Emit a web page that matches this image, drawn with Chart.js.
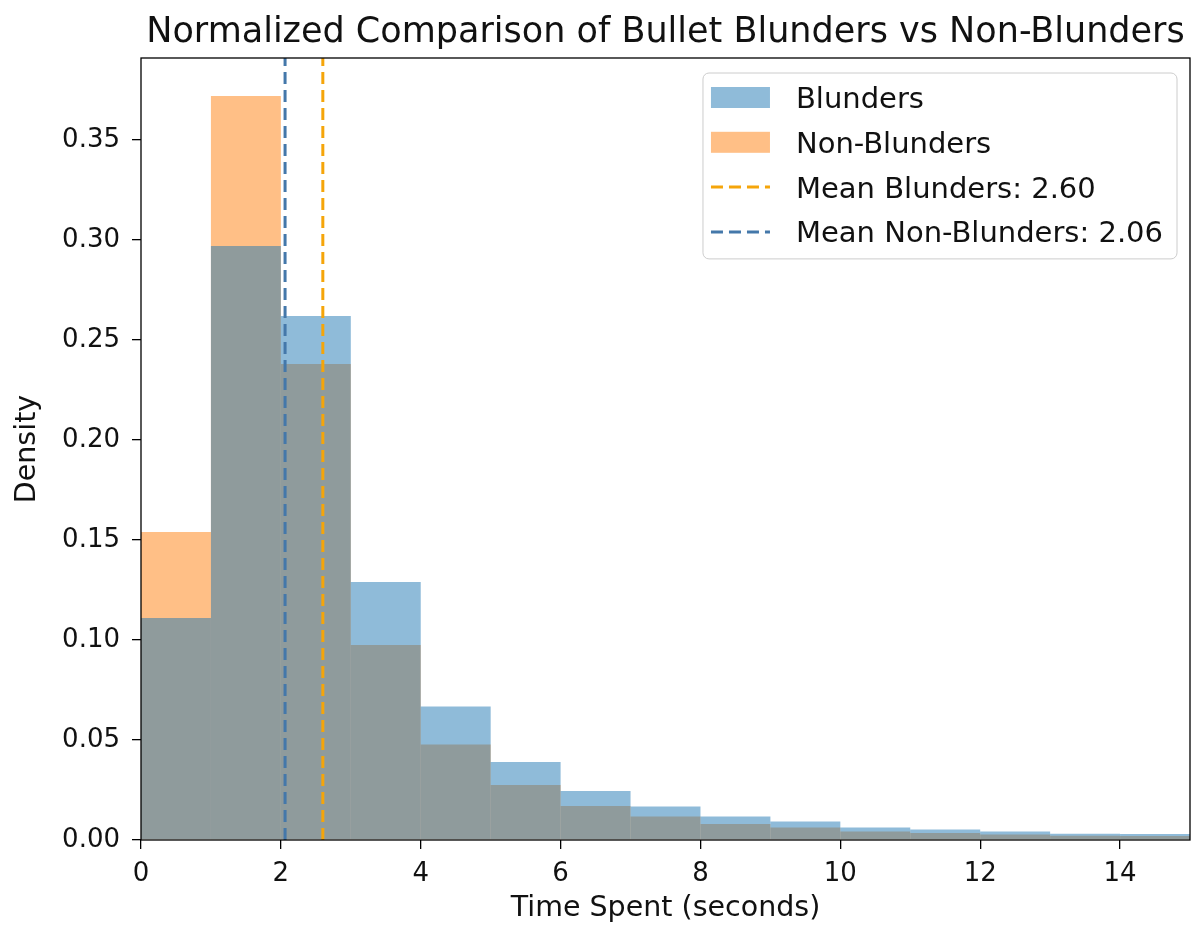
<!DOCTYPE html>
<html>
<head>
<meta charset="utf-8">
<title>Bullet blunders vs non-blunders</title>
<script src="https://cdn.jsdelivr.net/npm/chart.js@4.4.0/dist/chart.umd.min.js"></script>
<style>
  html, body { margin: 0; padding: 0; background: #fff; }
  #myChart { display: block; }
</style>
</head>
<body>
<canvas id="myChart" width="1191" height="930"></canvas>
<script>
// histogram bins, one second wide
var binStarts = [0, 1, 2, 3, 4, 5, 6, 7, 8, 9, 10, 11, 12, 13, 14];
var blunders = [0.111, 0.297, 0.262, 0.129, 0.0667, 0.039, 0.0245, 0.0167, 0.0117, 0.0093, 0.0063, 0.0052, 0.0042, 0.0031, 0.0030];
var nonBlunders = [0.154, 0.372, 0.238, 0.0975, 0.0478, 0.0275, 0.017, 0.0117, 0.008, 0.0063, 0.0042, 0.0035, 0.0028, 0.0021, 0.0020];
var meanBlunders = 2.60;
var meanNonBlunders = 2.06;
var xMax = 15;
var yMax = 0.391;

var FONT = "'DejaVu Sans', sans-serif";
var INK = "#111";

function toBins(values) {
  return values.map(function (v, i) { return {x: binStarts[i] + 0.5, y: v}; });
}

function meanLine(m) {
  return [{x: m, y: 0}, {x: m, y: yMax}];
}

// frame, title and a matplotlib-like legend box
var decorations = {
  id: "decorations",
  afterDatasetsDraw: function (chart) {
    var ctx = chart.ctx, a = chart.chartArea;
    ctx.save();
    ctx.strokeStyle = "#000";
    ctx.lineWidth = 1.3;
    ctx.strokeRect(a.left, a.top, a.right - a.left, a.bottom - a.top);
    ctx.restore();
  },
  afterDraw: function (chart) {
    var ctx = chart.ctx, a = chart.chartArea;
    ctx.save();

    ctx.fillStyle = INK;
    ctx.font = "35px " + FONT;
    ctx.textAlign = "center";
    ctx.textBaseline = "alphabetic";
    ctx.fillText("Normalized Comparison of Bullet Blunders vs Non-Blunders", (a.left + a.right) / 2, 42);

    var fs = 29;
    ctx.font = fs + "px " + FONT;
    var items = chart.data.datasets;
    var textW = 0;
    items.forEach(function (d) { textW = Math.max(textW, ctx.measureText(d.label).width); });
    var padL = 8, handle = 59, gap = 26, padR = 14, rowH = 44.8, firstRow = 24.5;
    var w = padL + handle + gap + textW + padR;
    var h = firstRow + rowH * (items.length - 1) + 27;
    var right = a.right - 13, top = a.top + 15, left = right - w;

    ctx.beginPath();
    ctx.roundRect(left, top, w, h, 6);
    ctx.fillStyle = "rgba(255,255,255,0.8)";
    ctx.fill();
    ctx.strokeStyle = "#cccccc";
    ctx.lineWidth = 1;
    ctx.stroke();

    items.forEach(function (d, i) {
      var cy = top + firstRow + i * rowH;
      var hx = left + padL;
      if (d.type === "line") {
        ctx.beginPath();
        ctx.setLineDash(d.borderDash);
        ctx.strokeStyle = d.borderColor;
        ctx.lineWidth = d.borderWidth;
        ctx.moveTo(hx, cy);
        ctx.lineTo(hx + handle, cy);
        ctx.stroke();
        ctx.setLineDash([]);
      } else {
        ctx.fillStyle = d.backgroundColor;
        ctx.fillRect(hx, cy - 10.5, handle, 21);
      }
      ctx.fillStyle = INK;
      ctx.textAlign = "left";
      ctx.textBaseline = "alphabetic";
      ctx.fillText(d.label, hx + handle + gap, cy + 0.365 * fs);
    });
    ctx.restore();
  }
};

new Chart("myChart", {
  type: "bar",
  data: {
    datasets: [{
      label: "Blunders",
      data: toBins(blunders),
      backgroundColor: "rgba(31,119,180,0.5)",
      borderWidth: 0,
      inflateAmount: 0,
      order: 1
    }, {
      label: "Non-Blunders",
      data: toBins(nonBlunders),
      backgroundColor: "rgba(255,127,14,0.5)",
      borderWidth: 0,
      inflateAmount: 0,
      order: 2
    }, {
      type: "line",
      label: "Mean Blunders: " + meanBlunders.toFixed(2),
      data: meanLine(meanBlunders),
      borderColor: "#f5a50a",
      borderWidth: 3,
      borderDash: [12, 6],
      pointRadius: 0,
      fill: false,
      order: 0
    }, {
      type: "line",
      label: "Mean Non-Blunders: " + meanNonBlunders.toFixed(2),
      data: meanLine(meanNonBlunders),
      borderColor: "#4478aa",
      borderWidth: 3,
      borderDash: [12, 6],
      pointRadius: 0,
      fill: false,
      order: 0
    }]
  },
  options: {
    responsive: false,
    animation: false,
    events: [],
    layout: {padding: {top: 58, right: 1, left: 0, bottom: 0}},
    datasets: {bar: {grouped: false, categoryPercentage: 1, barPercentage: 1}},
    plugins: {
      legend: {display: false},
      title: {display: false},
      tooltip: {enabled: false}
    },
    scales: {
      x: {
        type: "linear",
        min: 0,
        max: xMax,
        offset: false,
        border: {display: false},
        grid: {offset: false, drawOnChartArea: false, drawTicks: true, tickLength: 9, color: "#000", lineWidth: 1.3},
        ticks: {stepSize: 2, includeBounds: false, padding: 10, color: INK, font: {family: FONT, size: 26},
          maxRotation: 0, callback: function (v) { return v; }},
        title: {display: true, text: "Time Spent (seconds)", color: INK, font: {family: FONT, size: 28.5},
          padding: {top: 0, bottom: 4}},
        afterFit: function (s) { s.height = 90; }
      },
      y: {
        min: 0,
        max: yMax,
        border: {display: false},
        grid: {drawOnChartArea: false, drawTicks: true, tickLength: 9, color: "#000", lineWidth: 1.3},
        ticks: {stepSize: 0.05, includeBounds: false, padding: 12, color: INK, font: {family: FONT, size: 26},
          callback: function (v) { return v.toFixed(2); }},
        title: {display: true, text: "Density", color: INK, font: {family: FONT, size: 28.5},
          padding: {top: 10, bottom: 0}},
        afterFit: function (s) { s.width = 141; }
      }
    }
  },
  plugins: [decorations]
});
</script>
</body>
</html>
